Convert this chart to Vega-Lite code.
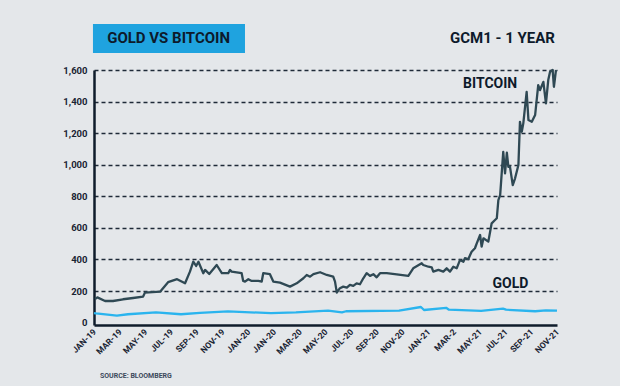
{
  "$schema": "https://vega.github.io/schema/vega-lite/v6.json",
  "width": 463,
  "height": 255,
  "autosize": "none",
  "padding": {"left": 94, "top": 70, "right": 63, "bottom": 61},
  "background": "#e4e7ea",
  "config": {"view": {"stroke": null}, "font": "Roboto"},
  "resolve": {"axis": {"x": "independent", "y": "independent"}},
  "datasets": {
    "prices": [
      {"series": "Bitcoin", "t": 0.04, "v": 150},
      {"series": "Bitcoin", "t": 0.13, "v": 160},
      {"series": "Bitcoin", "t": 0.43, "v": 137},
      {"series": "Bitcoin", "t": 0.74, "v": 137},
      {"series": "Bitcoin", "t": 1.13, "v": 148},
      {"series": "Bitcoin", "t": 1.52, "v": 156},
      {"series": "Bitcoin", "t": 1.91, "v": 165},
      {"series": "Bitcoin", "t": 1.98, "v": 190},
      {"series": "Bitcoin", "t": 2.57, "v": 196},
      {"series": "Bitcoin", "t": 2.88, "v": 256},
      {"series": "Bitcoin", "t": 3.23, "v": 275},
      {"series": "Bitcoin", "t": 3.54, "v": 249},
      {"series": "Bitcoin", "t": 3.73, "v": 323},
      {"series": "Bitcoin", "t": 3.86, "v": 386},
      {"series": "Bitcoin", "t": 3.97, "v": 359},
      {"series": "Bitcoin", "t": 4.06, "v": 386},
      {"series": "Bitcoin", "t": 4.25, "v": 313},
      {"series": "Bitcoin", "t": 4.32, "v": 334},
      {"series": "Bitcoin", "t": 4.48, "v": 308},
      {"series": "Bitcoin", "t": 4.77, "v": 365},
      {"series": "Bitcoin", "t": 4.97, "v": 313},
      {"series": "Bitcoin", "t": 5.22, "v": 313},
      {"series": "Bitcoin", "t": 5.29, "v": 334},
      {"series": "Bitcoin", "t": 5.35, "v": 323},
      {"series": "Bitcoin", "t": 5.74, "v": 313},
      {"series": "Bitcoin", "t": 5.8, "v": 264},
      {"series": "Bitcoin", "t": 5.87, "v": 260},
      {"series": "Bitcoin", "t": 6.0, "v": 275},
      {"series": "Bitcoin", "t": 6.13, "v": 264},
      {"series": "Bitcoin", "t": 6.39, "v": 264},
      {"series": "Bitcoin", "t": 6.52, "v": 260},
      {"series": "Bitcoin", "t": 6.58, "v": 313},
      {"series": "Bitcoin", "t": 6.84, "v": 307},
      {"series": "Bitcoin", "t": 6.97, "v": 260},
      {"series": "Bitcoin", "t": 7.23, "v": 253},
      {"series": "Bitcoin", "t": 7.62, "v": 228},
      {"series": "Bitcoin", "t": 7.88, "v": 249},
      {"series": "Bitcoin", "t": 8.14, "v": 281},
      {"series": "Bitcoin", "t": 8.27, "v": 302},
      {"series": "Bitcoin", "t": 8.4, "v": 291},
      {"series": "Bitcoin", "t": 8.53, "v": 307},
      {"series": "Bitcoin", "t": 8.79, "v": 319},
      {"series": "Bitcoin", "t": 9.05, "v": 302},
      {"series": "Bitcoin", "t": 9.3, "v": 291},
      {"series": "Bitcoin", "t": 9.37, "v": 260},
      {"series": "Bitcoin", "t": 9.44, "v": 190},
      {"series": "Bitcoin", "t": 9.56, "v": 218},
      {"series": "Bitcoin", "t": 9.69, "v": 228},
      {"series": "Bitcoin", "t": 9.83, "v": 222},
      {"series": "Bitcoin", "t": 9.95, "v": 239},
      {"series": "Bitcoin", "t": 10.08, "v": 233},
      {"series": "Bitcoin", "t": 10.21, "v": 249},
      {"series": "Bitcoin", "t": 10.34, "v": 243},
      {"series": "Bitcoin", "t": 10.47, "v": 281},
      {"series": "Bitcoin", "t": 10.6, "v": 313},
      {"series": "Bitcoin", "t": 10.73, "v": 296},
      {"series": "Bitcoin", "t": 10.86, "v": 307},
      {"series": "Bitcoin", "t": 10.99, "v": 287},
      {"series": "Bitcoin", "t": 11.12, "v": 313},
      {"series": "Bitcoin", "t": 11.38, "v": 313},
      {"series": "Bitcoin", "t": 11.77, "v": 306},
      {"series": "Bitcoin", "t": 12.22, "v": 296},
      {"series": "Bitcoin", "t": 12.41, "v": 344},
      {"series": "Bitcoin", "t": 12.74, "v": 376},
      {"series": "Bitcoin", "t": 12.8, "v": 365},
      {"series": "Bitcoin", "t": 13.0, "v": 354},
      {"series": "Bitcoin", "t": 13.13, "v": 350},
      {"series": "Bitcoin", "t": 13.19, "v": 323},
      {"series": "Bitcoin", "t": 13.39, "v": 334},
      {"series": "Bitcoin", "t": 13.58, "v": 323},
      {"series": "Bitcoin", "t": 13.71, "v": 344},
      {"series": "Bitcoin", "t": 13.84, "v": 323},
      {"series": "Bitcoin", "t": 13.97, "v": 354},
      {"series": "Bitcoin", "t": 14.1, "v": 344},
      {"series": "Bitcoin", "t": 14.23, "v": 397},
      {"series": "Bitcoin", "t": 14.36, "v": 386},
      {"series": "Bitcoin", "t": 14.42, "v": 408},
      {"series": "Bitcoin", "t": 14.55, "v": 402},
      {"series": "Bitcoin", "t": 14.68, "v": 449},
      {"series": "Bitcoin", "t": 14.81, "v": 471},
      {"series": "Bitcoin", "t": 14.88, "v": 502},
      {"series": "Bitcoin", "t": 15.01, "v": 555},
      {"series": "Bitcoin", "t": 15.07, "v": 481},
      {"series": "Bitcoin", "t": 15.14, "v": 534},
      {"series": "Bitcoin", "t": 15.33, "v": 513},
      {"series": "Bitcoin", "t": 15.46, "v": 629},
      {"series": "Bitcoin", "t": 15.59, "v": 650},
      {"series": "Bitcoin", "t": 15.66, "v": 661},
      {"series": "Bitcoin", "t": 15.72, "v": 776},
      {"series": "Bitcoin", "t": 15.79, "v": 808},
      {"series": "Bitcoin", "t": 15.91, "v": 1082},
      {"series": "Bitcoin", "t": 15.98, "v": 945},
      {"series": "Bitcoin", "t": 16.05, "v": 1076},
      {"series": "Bitcoin", "t": 16.11, "v": 987},
      {"series": "Bitcoin", "t": 16.17, "v": 990},
      {"series": "Bitcoin", "t": 16.28, "v": 871},
      {"series": "Bitcoin", "t": 16.37, "v": 914},
      {"series": "Bitcoin", "t": 16.5, "v": 998},
      {"series": "Bitcoin", "t": 16.56, "v": 1272},
      {"series": "Bitcoin", "t": 16.63, "v": 1209},
      {"series": "Bitcoin", "t": 16.69, "v": 1262},
      {"series": "Bitcoin", "t": 16.82, "v": 1462},
      {"series": "Bitcoin", "t": 16.89, "v": 1283},
      {"series": "Bitcoin", "t": 17.02, "v": 1272},
      {"series": "Bitcoin", "t": 17.15, "v": 1315},
      {"series": "Bitcoin", "t": 17.27, "v": 1504},
      {"series": "Bitcoin", "t": 17.34, "v": 1473},
      {"series": "Bitcoin", "t": 17.47, "v": 1525},
      {"series": "Bitcoin", "t": 17.57, "v": 1389},
      {"series": "Bitcoin", "t": 17.66, "v": 1536},
      {"series": "Bitcoin", "t": 17.73, "v": 1589},
      {"series": "Bitcoin", "t": 17.83, "v": 1600},
      {"series": "Bitcoin", "t": 17.88, "v": 1494},
      {"series": "Bitcoin", "t": 17.96, "v": 1600},
      {"series": "Gold", "t": 0.0, "v": 60},
      {"series": "Gold", "t": 0.08, "v": 58},
      {"series": "Gold", "t": 0.89, "v": 44},
      {"series": "Gold", "t": 1.32, "v": 53},
      {"series": "Gold", "t": 2.41, "v": 65},
      {"series": "Gold", "t": 3.38, "v": 53},
      {"series": "Gold", "t": 4.12, "v": 62},
      {"series": "Gold", "t": 5.21, "v": 71},
      {"series": "Gold", "t": 6.88, "v": 60},
      {"series": "Gold", "t": 7.85, "v": 65},
      {"series": "Gold", "t": 9.1, "v": 76},
      {"series": "Gold", "t": 9.64, "v": 65},
      {"series": "Gold", "t": 9.8, "v": 72},
      {"series": "Gold", "t": 11.86, "v": 76},
      {"series": "Gold", "t": 12.71, "v": 99},
      {"series": "Gold", "t": 12.83, "v": 80},
      {"series": "Gold", "t": 13.69, "v": 94},
      {"series": "Gold", "t": 13.8, "v": 82},
      {"series": "Gold", "t": 15.05, "v": 74},
      {"series": "Gold", "t": 15.9, "v": 89},
      {"series": "Gold", "t": 16.02, "v": 82},
      {"series": "Gold", "t": 17.15, "v": 72},
      {"series": "Gold", "t": 17.57, "v": 78},
      {"series": "Gold", "t": 18.0, "v": 76}
    ],
    "labels": [
      {"label": "GOLD VS BITCOIN"},
      {"label": "GCM1 - 1 YEAR"},
      {"label": "BITCOIN"},
      {"label": "GOLD"},
      {"label": "SOURCE: BLOOMBERG"}
    ]
  },
  "layer": [
    {
      "data": {"name": "prices"},
      "mark": {"type": "line", "strokeWidth": 2.3, "strokeJoin": "round"},
      "encoding": {
        "x": {
          "field": "t", "type": "quantitative",
          "scale": {"domain": [0, 18], "nice": false, "zero": false},
          "axis": {
            "values": [0, 1, 2, 3, 4, 5, 6, 7, 8, 9, 10, 11, 12, 13, 14, 15, 16, 17, 18],
            "labelExpr": "['JAN-19','MAR-19','MAY-19','JUL-19','SEP-19','NOV-19','JAN-20','JAN-20','MAR-20','MAY-20','JUL-20','SEP-20','NOV-20','JAN-21','MAR-2','MAY-21','JUL-21','SEP-21','NOV-21'][datum.value]",
            "labelAngle": -45,
            "labelAlign": "right",
            "labelBaseline": "middle",
            "labelFontWeight": "bold",
            "labelFontSize": 8.5,
            "labelColor": "#1a2433",
            "labelPadding": 5,
            "labelOverlap": false,
            "labelBound": false,
            "labelFlush": false,
            "ticks": false,
            "grid": false,
            "domainColor": "#0f1c2b",
            "domainWidth": 2.5,
            "title": null
          }
        },
        "y": {
          "field": "v", "type": "quantitative",
          "scale": {"domain": [-15, 1600], "nice": false, "zero": false},
          "axis": {
            "values": [0, 200, 400, 600, 800, 1000, 1200, 1400, 1600],
            "format": ",.0f",
            "grid": true,
            "gridDash": [4, 3],
            "gridColor": "#1e2a38",
            "gridWidth": 1.3,
            "gridOpacity": {"condition": {"test": "datum.value == 0", "value": 0}, "value": 1},
            "ticks": false,
            "domainColor": "#0f1c2b",
            "domainWidth": 2.5,
            "labelFontWeight": "bold",
            "labelFontSize": 9.5,
            "labelColor": "#1a2433",
            "labelPadding": 7,
            "labelOverlap": false,
            "labelFlush": false,
            "title": null
          }
        },
        "color": {
          "field": "series", "type": "nominal",
          "scale": {"domain": ["Bitcoin", "Gold"], "range": ["#2f4954", "#2ab4ee"]},
          "legend": null
        }
      }
    },
    {
      "data": {"name": "labels"},
      "transform": [{"filter": "datum.label == 'GOLD VS BITCOIN'"}],
      "mark": {"type": "rect", "color": "#1fa3df"},
      "encoding": {
        "x": {"datum": -0.04, "type": "quantitative", "axis": null},
        "x2": {"datum": 5.87},
        "y": {"datum": 1891, "type": "quantitative", "axis": null},
        "y2": {"datum": 1708}
      }
    },
    {
      "data": {"name": "labels"},
      "transform": [{"filter": "datum.label == 'GOLD VS BITCOIN'"}],
      "mark": {"type": "text", "fontSize": 15, "fontWeight": "bold", "color": "#0d1a2b", "align": "center", "baseline": "middle"},
      "encoding": {
        "x": {"datum": 2.9, "type": "quantitative", "axis": null},
        "y": {"datum": 1800, "type": "quantitative", "axis": null},
        "text": {"field": "label"}
      }
    },
    {
      "data": {"name": "labels"},
      "transform": [{"filter": "datum.label == 'GCM1 - 1 YEAR'"}],
      "mark": {"type": "text", "fontSize": 15, "fontWeight": "bold", "color": "#0d1a2b", "align": "center", "baseline": "middle"},
      "encoding": {
        "x": {"datum": 15.88, "type": "quantitative", "axis": null},
        "y": {"datum": 1800, "type": "quantitative", "axis": null},
        "text": {"field": "label"}
      }
    },
    {
      "data": {"name": "labels"},
      "transform": [{"filter": "datum.label == 'BITCOIN'"}],
      "mark": {"type": "text", "fontSize": 14, "fontWeight": "bold", "color": "#0d1a2b", "align": "center", "baseline": "middle"},
      "encoding": {
        "x": {"datum": 15.4, "type": "quantitative", "axis": null},
        "y": {"datum": 1511, "type": "quantitative", "axis": null},
        "text": {"field": "label"}
      }
    },
    {
      "data": {"name": "labels"},
      "transform": [{"filter": "datum.label == 'GOLD'"}],
      "mark": {"type": "text", "fontSize": 14, "fontWeight": "bold", "color": "#0d1a2b", "align": "center", "baseline": "middle"},
      "encoding": {
        "x": {"datum": 16.19, "type": "quantitative", "axis": null},
        "y": {"datum": 245, "type": "quantitative", "axis": null},
        "text": {"field": "label"}
      }
    },
    {
      "data": {"name": "labels"},
      "transform": [{"filter": "datum.label == 'SOURCE: BLOOMBERG'"}],
      "mark": {"type": "text", "fontSize": 7, "fontWeight": "bold", "color": "#3c4a5c", "align": "left", "baseline": "middle"},
      "encoding": {
        "x": {"datum": 0.23, "type": "quantitative", "axis": null},
        "y": {"datum": -338, "type": "quantitative", "axis": null},
        "text": {"field": "label"}
      }
    }
  ]
}
